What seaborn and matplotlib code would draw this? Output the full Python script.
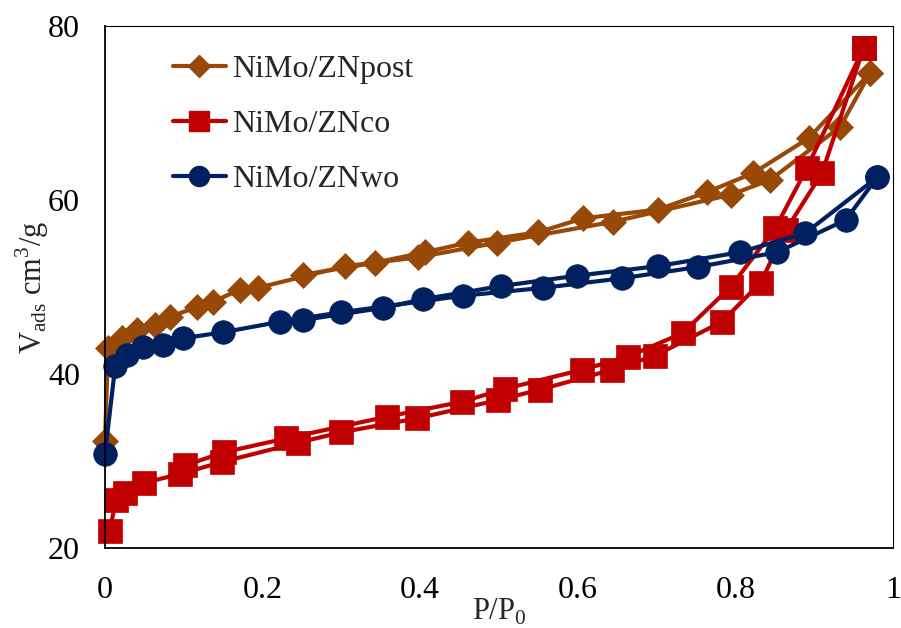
import matplotlib
matplotlib.use("Agg")
import matplotlib.pyplot as plt
import seaborn as sns
from matplotlib.lines import Line2D

# N2 isotherm data (P/P0, Vads cm3/g)
post_ads_x = [0.0, 0.004, 0.022, 0.041, 0.063, 0.083, 0.117, 0.137, 0.171, 0.194, 0.305, 0.397, 0.498, 0.645, 0.794, 0.844, 0.933, 0.971]
post_ads_y = [32.3, 43.0, 44.1, 45.1, 45.6, 46.6, 47.7, 48.3, 49.7, 49.9, 52.4, 53.4, 55.1, 57.5, 60.6, 62.3, 68.4, 74.6]
post_des_x = [0.971, 0.893, 0.823, 0.764, 0.702, 0.607, 0.550, 0.461, 0.406, 0.343, 0.251]
post_des_y = [74.6, 67.1, 63.1, 60.9, 58.9, 57.9, 56.3, 55.1, 54.0, 52.8, 51.4]

co_ads_x = [0.006, 0.014, 0.025, 0.05, 0.095, 0.149, 0.245, 0.30, 0.396, 0.499, 0.552, 0.644, 0.698, 0.783, 0.832, 0.864, 0.910, 0.963]
co_ads_y = [22.0, 25.5, 26.3, 27.5, 28.5, 29.9, 32.1, 33.3, 34.9, 37.0, 38.2, 40.5, 42.1, 46.0, 50.5, 56.5, 63.1, 77.5]
co_des_x = [0.963, 0.891, 0.851, 0.794, 0.733, 0.664, 0.606, 0.508, 0.453, 0.358, 0.23, 0.151, 0.102]
co_des_y = [77.5, 63.7, 56.8, 50.0, 44.7, 42.0, 40.5, 38.3, 36.8, 35.1, 32.6, 31.0, 29.5]

wo_ads_x = [0.0, 0.013, 0.028, 0.048, 0.074, 0.099, 0.15, 0.222, 0.30, 0.455, 0.556, 0.656, 0.753, 0.853, 0.940, 0.980]
wo_ads_y = [30.8, 40.9, 42.2, 43.1, 43.3, 44.1, 44.8, 46.0, 47.1, 49.0, 49.9, 51.0, 52.3, 54.0, 57.7, 62.6]
wo_des_x = [0.980, 0.889, 0.806, 0.702, 0.599, 0.502, 0.404, 0.353, 0.251]
wo_des_y = [62.6, 56.2, 54.0, 52.4, 51.3, 50.1, 48.6, 47.6, 46.2]

labels = ["NiMo/ZNpost", "NiMo/ZNco", "NiMo/ZNwo"]
colors = ["#984807", "#C00000", "#002060"]
markers = ["D", "s", "o"]
msizes = [13, 17, 17]

x_ticks = [0, 0.2, 0.4, 0.6, 0.8, 1]
x_ticklabels = ["0", "0.2", "0.4", "0.6", "0.8", "1"]
y_ticks = [20, 40, 60, 80]

sns.set_style("white")
plt.rcParams['font.family'] = ['Liberation Serif', 'DejaVu Serif']
plt.rcParams['mathtext.fontset'] = 'custom'
plt.rcParams['mathtext.rm'] = 'Liberation Serif'

fig = plt.figure(figsize=(9.01, 6.28), dpi=100)
ax = fig.add_axes([0.1165, 0.1274, 0.8745, 0.8312])

series = [
    (post_ads_x, post_ads_y, post_des_x, post_des_y),
    (co_ads_x, co_ads_y, co_des_x, co_des_y),
    (wo_ads_x, wo_ads_y, wo_des_x, wo_des_y),
]

for (ax_x, ax_y, dx, dy), c, m, ms in zip(series, colors, markers, msizes):
    for xs, ys in [(ax_x, ax_y), (dx, dy)]:
        sns.lineplot(x=xs, y=ys, sort=False, ax=ax, color=c, marker=m,
                     markersize=ms, markeredgecolor=c, markeredgewidth=0.5,
                     linewidth=3.0, legend=False, clip_on=False)

ax.set_xlim(0, 1)
ax.set_ylim(20, 80)
ax.set_xticks(x_ticks)
ax.set_xticklabels(x_ticklabels)
ax.set_yticks(y_ticks)
ax.tick_params(length=0, labelsize=23, colors="black")
ax.tick_params(axis="x", pad=20)
ax.tick_params(axis="y", pad=18)
for s in ax.spines.values():
    s.set_color("black")
    s.set_linewidth(1.3)
ax.spines['top'].set_linewidth(0.8)
ax.spines['right'].set_linewidth(0.8)

ax.set_xlabel("P/P$_0$", fontsize=22, labelpad=-6)
ax.set_ylabel("V$_{\\mathregular{ads}}$ cm$^3$/g", fontsize=22, labelpad=-2)

handles = [Line2D([0], [0], color=c, marker=m, markersize=ms * 0.85, linewidth=3.0,
                  markeredgecolor=c) for c, m, ms in zip(colors, markers, msizes)]
ax.legend(handles, labels, loc="upper left", bbox_to_anchor=(0.05, 1.0),
          frameon=False, fontsize=23, handlelength=1.65, handletextpad=0.2,
          labelspacing=0.8)

fig.savefig("out.png", dpi=100)
